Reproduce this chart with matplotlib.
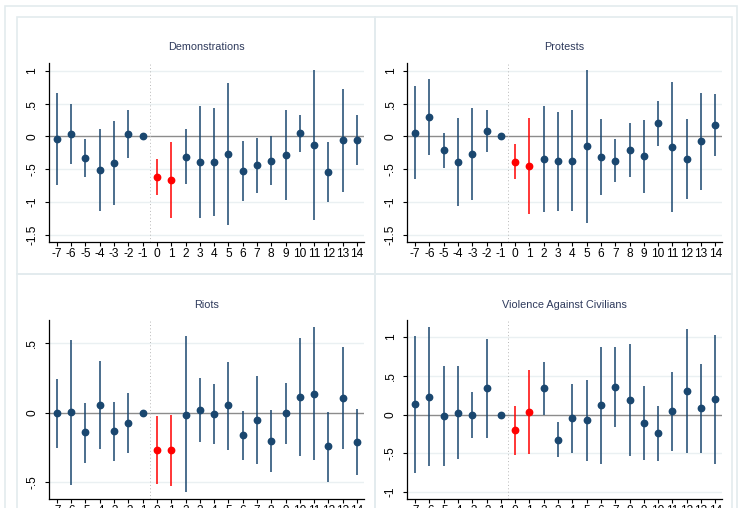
import matplotlib
matplotlib.use("Agg")
import matplotlib.pyplot as plt
from matplotlib.patches import Rectangle

periods = list(range(-7, 15))

demo_coef = [-0.04, 0.035, -0.33, -0.51, -0.40, 0.04, 0.0, -0.62, -0.67, -0.315, -0.39,
             -0.39, -0.27, -0.53, -0.44, -0.37, -0.285, 0.05, -0.135, -0.54, -0.055, -0.06]
demo_hi = [0.665, 0.49, -0.045, 0.117, 0.23, 0.41, 0.0, -0.35, -0.086, 0.107, 0.46,
           0.43, 0.81, -0.07, -0.025, 0.005, 0.40, 0.325, 1.01, -0.08, 0.73, 0.32]
demo_lo = [-0.74, -0.42, -0.62, -1.13, -1.04, -0.325, 0.0, -0.89, -1.25, -0.73, -1.24,
           -1.21, -1.355, -0.99, -0.86, -0.745, -0.97, -0.235, -1.28, -1.005, -0.84, -0.44]

prot_coef = [0.055, 0.30, -0.20, -0.39, -0.265, 0.08, 0.0, -0.385, -0.447, -0.345, -0.38,
             -0.37, -0.147, -0.31, -0.376, -0.208, -0.305, 0.203, -0.162, -0.35, -0.076, 0.173]
prot_hi = [0.765, 0.875, 0.06, 0.28, 0.44, 0.40, 0.0, -0.117, 0.284, 0.457, 0.375,
           0.40, 1.01, 0.264, -0.046, 0.198, 0.25, 0.54, 0.83, 0.264, 0.66, 0.64]
prot_lo = [-0.655, -0.28, -0.475, -1.065, -0.97, -0.24, 0.0, -0.655, -1.18, -1.16, -1.14,
           -1.14, -1.315, -0.89, -0.70, -0.62, -0.87, -0.142, -1.16, -0.955, -0.81, -0.294]

riot_coef = [0.0, 0.005, -0.14, 0.055, -0.134, -0.074, 0.0, -0.27, -0.27, -0.012, 0.022,
             -0.007, 0.053, -0.163, -0.05, -0.20, -0.002, 0.113, 0.137, -0.242, 0.108, -0.209]
riot_hi = [0.247, 0.525, 0.072, 0.37, 0.08, 0.14, 0.0, -0.02, -0.012, 0.55, 0.252,
           0.21, 0.367, 0.01, 0.264, 0.022, 0.218, 0.537, 0.616, 0.007, 0.475, 0.029]
riot_lo = [-0.25, -0.52, -0.36, -0.26, -0.35, -0.29, 0.0, -0.515, -0.53, -0.573, -0.21,
           -0.225, -0.264, -0.34, -0.367, -0.427, -0.225, -0.314, -0.34, -0.496, -0.26, -0.45]

vac_coef = [0.138, 0.228, -0.013, 0.026, -0.004, 0.34, 0.0, -0.206, 0.034, 0.344, -0.323,
            -0.047, -0.073, 0.12, 0.357, 0.193, -0.108, -0.24, 0.047, 0.305, 0.086, 0.198]
vac_hi = [1.01, 1.13, 0.632, 0.62, 0.29, 0.97, 0.0, 0.107, 0.572, 0.684, -0.10,
          0.39, 0.447, 0.877, 0.868, 0.916, 0.365, 0.112, 0.55, 1.105, 0.654, 1.03]
vac_lo = [-0.75, -0.67, -0.66, -0.57, -0.30, -0.297, 0.0, -0.525, -0.507, 0.0, -0.55,
          -0.495, -0.60, -0.637, -0.16, -0.533, -0.585, -0.60, -0.47, -0.495, -0.495, -0.64]

titles = ["Demonstrations", "Protests", "Riots", "Violence Against Civilians"]
highlight = [0, 1]

yt_12 = [1, 0.5, 0, -0.5, -1, -1.5]
yl_12 = ["1", ".5", "0", "-.5", "-1", "-1.5"]
yt_3 = [0.5, 0, -0.5]
yl_3 = [".5", "0", "-.5"]
yt_4 = [1, 0.5, 0, -0.5, -1]
yl_4 = ["1", ".5", "0", "-.5", "-1"]

W, H = 738, 508
fig = plt.figure(figsize=(W / 100, H / 100), dpi=100)
fig.patch.set_facecolor("white")

NAVY = "#1a476f"
RED = "#ff0000"
FRAME = "#e3ebee"
GRID = "#eaf0f2"
TICKFONT = ["Liberation Sans Narrow", "Liberation Sans", "DejaVu Sans"]


def frame(x0, y0, x1, y1):
    fig.add_artist(Rectangle((x0 / W, 1 - y1 / H), (x1 - x0) / W, (y1 - y0) / H,
                             transform=fig.transFigure, facecolor="none",
                             edgecolor=FRAME, lw=1.2, zorder=0))


frame(5, 6, 737, 530)
frame(17, 17, 375, 274)
frame(375, 17, 732, 274)
frame(17, 274, 375, 530)
frame(375, 274, 732, 530)

panels = [
    (49, 63, 363.5, 242, demo_coef, demo_lo, demo_hi, (-1.61, 1.12), yt_12, yl_12),
    (407.3, 63, 721.7, 242, prot_coef, prot_lo, prot_hi, (-1.61, 1.12), yt_12, yl_12),
    (49, 320, 363.5, 499, riot_coef, riot_lo, riot_hi, (-0.62, 0.668), yt_3, yl_3),
    (407.3, 320, 721.7, 499, vac_coef, vac_lo, vac_hi, (-1.09, 1.22), yt_4, yl_4),
]

for i, (l, t, r, b, coef, lo, hi, ylim, yt, yl) in enumerate(panels):
    ax = fig.add_axes([l / W, 1 - b / H, (r - l) / W, (b - t) / H])
    ax.set_facecolor("none")
    for yv in yt:
        if yv != 0:
            ax.axhline(yv, color=GRID, lw=1.0, zorder=0)
    ax.axhline(0, color="#8c8c8c", lw=1.0, zorder=1)
    ax.axvline(-0.5, color="#b8b8b8", lw=0.7, ls=(0, (1, 2.5)), zorder=1)
    for p, c, a, h in zip(periods, coef, lo, hi):
        col = RED if p in highlight else NAVY
        if p != -1:
            ax.vlines(p, a, h, color=col, lw=1.1, zorder=2)
        ax.plot([p], [c], "o", color=col, ms=4.6, mec=col, zorder=3)
    ax.set_xlim(-7.55, 14.45)
    ax.set_ylim(*ylim)
    ax.set_xticks(periods)
    ax.set_xticklabels([str(p) for p in periods], family=TICKFONT, fontsize=8.6)
    ax.set_yticks(yt)
    ax.set_yticklabels(yl, family=TICKFONT, fontsize=8.6, rotation=90, va="center")
    ax.tick_params(axis="x", length=3.2, width=0.8, pad=0.8, color="black")
    ax.tick_params(axis="y", length=3.2, width=0.8, pad=4.5, color="black")
    for s in ["top", "right"]:
        ax.spines[s].set_visible(False)
    for s in ["left", "bottom"]:
        ax.spines[s].set_linewidth(0.9)
    ax.set_title(titles[i], family=["Liberation Sans", "DejaVu Sans"], fontsize=7.8,
                 color="#2e3a5c", pad=9)

fig.savefig("out.png", dpi=100, facecolor="white")
